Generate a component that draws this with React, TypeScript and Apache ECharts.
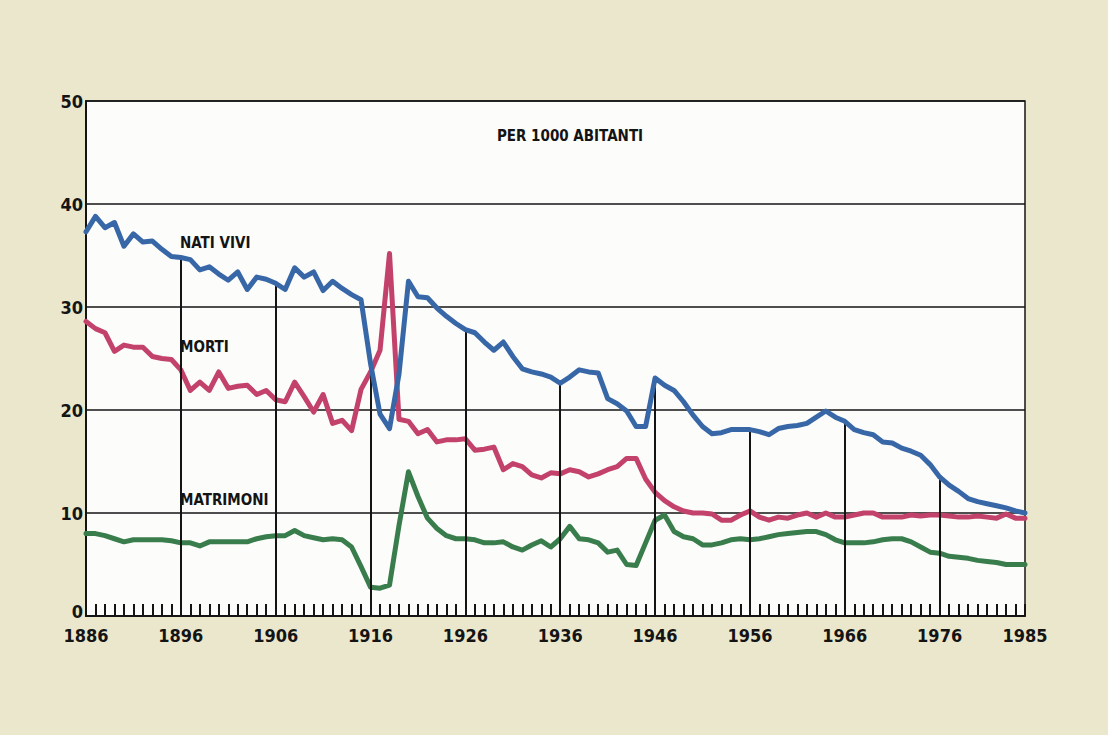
import React, { useEffect, useRef } from "react";
import * as echarts from "echarts";

// Years on the x axis (1886 .. 1985)
const YEARS: string[] = Array.from({ length: 100 }, (_, i) => String(1886 + i));
const LABEL_YEARS = ["1886", "1896", "1906", "1916", "1926", "1936", "1946", "1956", "1966", "1976", "1985"];
const GUIDE_YEARS = ["1896", "1906", "1916", "1926", "1936", "1946", "1956", "1966", "1976"];
const Y_TICKS = [0, 10, 20, 30, 40, 50];

// per 1000 abitanti
const NATI_VIVI = [
  37.3, 38.8, 37.7, 38.2, 35.9, 37.1, 36.3, 36.4, 35.6, 34.9,
  34.8, 34.6, 33.6, 33.9, 33.2, 32.6, 33.4, 31.7, 32.9, 32.7,
  32.3, 31.7, 33.8, 32.9, 33.4, 31.6, 32.5, 31.8, 31.2, 30.7,
  24.5, 19.6, 18.2, 23.5, 32.5, 31.0, 30.9, 29.9, 29.1, 28.4,
  27.8, 27.5, 26.6, 25.8, 26.6, 25.2, 24.0, 23.7, 23.5, 23.2,
  22.6, 23.2, 23.9, 23.7, 23.6, 21.1, 20.6, 19.9, 18.4, 18.4,
  23.1, 22.4, 21.9, 20.8, 19.5, 18.4, 17.7, 17.8, 18.1, 18.1,
  18.1, 17.9, 17.6, 18.2, 18.4, 18.5, 18.7, 19.3, 19.9, 19.3,
  18.9, 18.1, 17.8, 17.6, 16.9, 16.8, 16.3, 16.0, 15.6, 14.7,
  13.5, 12.7, 12.1, 11.4, 11.1, 10.9, 10.7, 10.5, 10.2, 10.0,
];

const MORTI = [
  28.6, 27.9, 27.5, 25.7, 26.3, 26.1, 26.1, 25.2, 25.0, 24.9,
  23.9, 21.9, 22.7, 21.9, 23.7, 22.1, 22.3, 22.4, 21.5, 21.9,
  21.0, 20.8, 22.7, 21.3, 19.8, 21.5, 18.7, 19.0, 18.0, 22.0,
  23.7, 25.8, 35.2, 19.1, 18.9, 17.7, 18.1, 16.9, 17.1, 17.1,
  17.2, 16.1, 16.2, 16.4, 14.2, 14.8, 14.5, 13.7, 13.4, 13.9,
  13.8, 14.2, 14.0, 13.5, 13.8, 14.2, 14.5, 15.3, 15.3, 13.3,
  12.0, 11.2, 10.6, 10.2, 10.0, 10.0, 9.9, 9.3, 9.3, 9.8,
  10.2, 9.6, 9.3, 9.6, 9.5, 9.8, 10.0, 9.6, 10.0, 9.6,
  9.6, 9.8, 10.0, 10.0, 9.6, 9.6, 9.6, 9.8, 9.7, 9.8,
  9.8, 9.7, 9.6, 9.6, 9.7, 9.6, 9.5, 9.9, 9.5, 9.5,
];

const MATRIMONI = [
  8.0, 8.0, 7.8, 7.5, 7.2, 7.4, 7.4, 7.4, 7.4, 7.3,
  7.1, 7.1, 6.8, 7.2, 7.2, 7.2, 7.2, 7.2, 7.5, 7.7,
  7.8, 7.8, 8.3, 7.8, 7.6, 7.4, 7.5, 7.4, 6.7, 4.8,
  2.8, 2.7, 3.0, 8.8, 14.0, 11.6, 9.5, 8.5, 7.8, 7.5,
  7.5, 7.4, 7.1, 7.1, 7.2, 6.7, 6.4, 6.9, 7.3, 6.7,
  7.5, 8.7, 7.5, 7.4, 7.1, 6.2, 6.4, 5.0, 4.9, 7.1,
  9.3, 9.8, 8.2, 7.7, 7.5, 6.9, 6.9, 7.1, 7.4, 7.5,
  7.4, 7.5, 7.7, 7.9, 8.0, 8.1, 8.2, 8.2, 7.9, 7.4,
  7.1, 7.1, 7.1, 7.2, 7.4, 7.5, 7.5, 7.2, 6.7, 6.2,
  6.1, 5.8, 5.7, 5.6, 5.4, 5.3, 5.2, 5.0, 5.0, 5.0,
];

const FONT = "'Liberation Sans Narrow', 'DejaVu Sans Condensed', 'Liberation Sans', sans-serif";
const INK = "#141414";

export default function App() {
  const ref = useRef<HTMLDivElement>(null);

  useEffect(() => {
    document.body.style.margin = "0";
    if (!ref.current) return;
    const chart = echarts.init(ref.current, undefined, { renderer: "svg" });

    const guides = GUIDE_YEARS.map((y) => [
      { coord: [y, 0] },
      { coord: [y, NATI_VIVI[YEARS.indexOf(y)]] },
    ]);

    const annot = (text: string, x: number, y: number, size: number, align = "left") => ({
      type: "text",
      x,
      y,
      style: {
        text,
        fill: INK,
        font: `bold ${size}px ${FONT}`,
        align,
        verticalAlign: "middle",
      },
    });

    chart.setOption({
      animation: false,
      backgroundColor: "#ebe7cd",
      grid: {
        left: 86,
        right: 83,
        top: 101,
        bottom: 119,
        show: true,
        backgroundColor: "#fcfcfa",
        borderColor: INK,
        borderWidth: 1.5,
      },
      xAxis: {
        type: "category",
        data: YEARS,
        boundaryGap: false,
        axisLine: { lineStyle: { color: INK, width: 2 } },
        axisTick: { show: true, inside: true, length: 12, interval: 0, lineStyle: { color: INK, width: 2 } },
        axisLabel: {
          interval: (_i: number, v: string) => LABEL_YEARS.includes(v),
          color: INK,
          fontFamily: FONT,
          fontSize: 18,
          fontWeight: "bold",
          lineHeight: 18,
          margin: 10,
        },
        splitLine: { show: false },
      },
      yAxis: {
        type: "value",
        min: Y_TICKS[0],
        max: Y_TICKS[Y_TICKS.length - 1],
        interval: 10,
        axisLine: { show: true, lineStyle: { color: INK, width: 2 } },
        axisTick: { show: false },
        axisLabel: {
          color: INK,
          fontFamily: FONT,
          fontSize: 18,
          fontWeight: "bold",
          lineHeight: 15,
          margin: 3,
          formatter: (v: number) => (v === 0 ? "{z|0}" : String(v)),
          rich: {
            z: {
              fontFamily: FONT,
              fontSize: 18,
              fontWeight: "bold",
              color: INK,
              lineHeight: 15,
              padding: [0, 0, 10, 0],
            },
          },
        },
        splitLine: { show: true, lineStyle: { color: INK, width: 1.5 } },
      },
      graphic: [
        annot("PER 1000 ABITANTI", 570, 136, 15, "center"),
        annot("NATI VIVI", 180, 243, 15),
        annot("MORTI", 180, 347, 15),
        annot("MATRIMONI", 180, 500, 15),
      ],
      series: [
        {
          name: "guides",
          type: "line",
          data: [],
          z: 1,
          silent: true,
          markLine: {
            silent: true,
            symbol: "none",
            label: { show: false },
            lineStyle: { color: INK, width: 2, type: "solid" },
            data: guides,
          },
        },
        {
          name: "Matrimoni",
          type: "line",
          data: MATRIMONI,
          showSymbol: false,
          z: 3,
          lineStyle: { color: "#3a7d4d", width: 5, join: "round", cap: "round" },
        },
        {
          name: "Morti",
          type: "line",
          data: MORTI,
          showSymbol: false,
          z: 4,
          lineStyle: { color: "#c2426b", width: 5, join: "round", cap: "round" },
        },
        {
          name: "Nati vivi",
          type: "line",
          data: NATI_VIVI,
          showSymbol: false,
          z: 5,
          lineStyle: { color: "#3867a8", width: 5, join: "round", cap: "round" },
        },
      ],
    });

    return () => chart.dispose();
  }, []);

  return <div ref={ref} style={{ width: 1108, height: 735 }} />;
}
